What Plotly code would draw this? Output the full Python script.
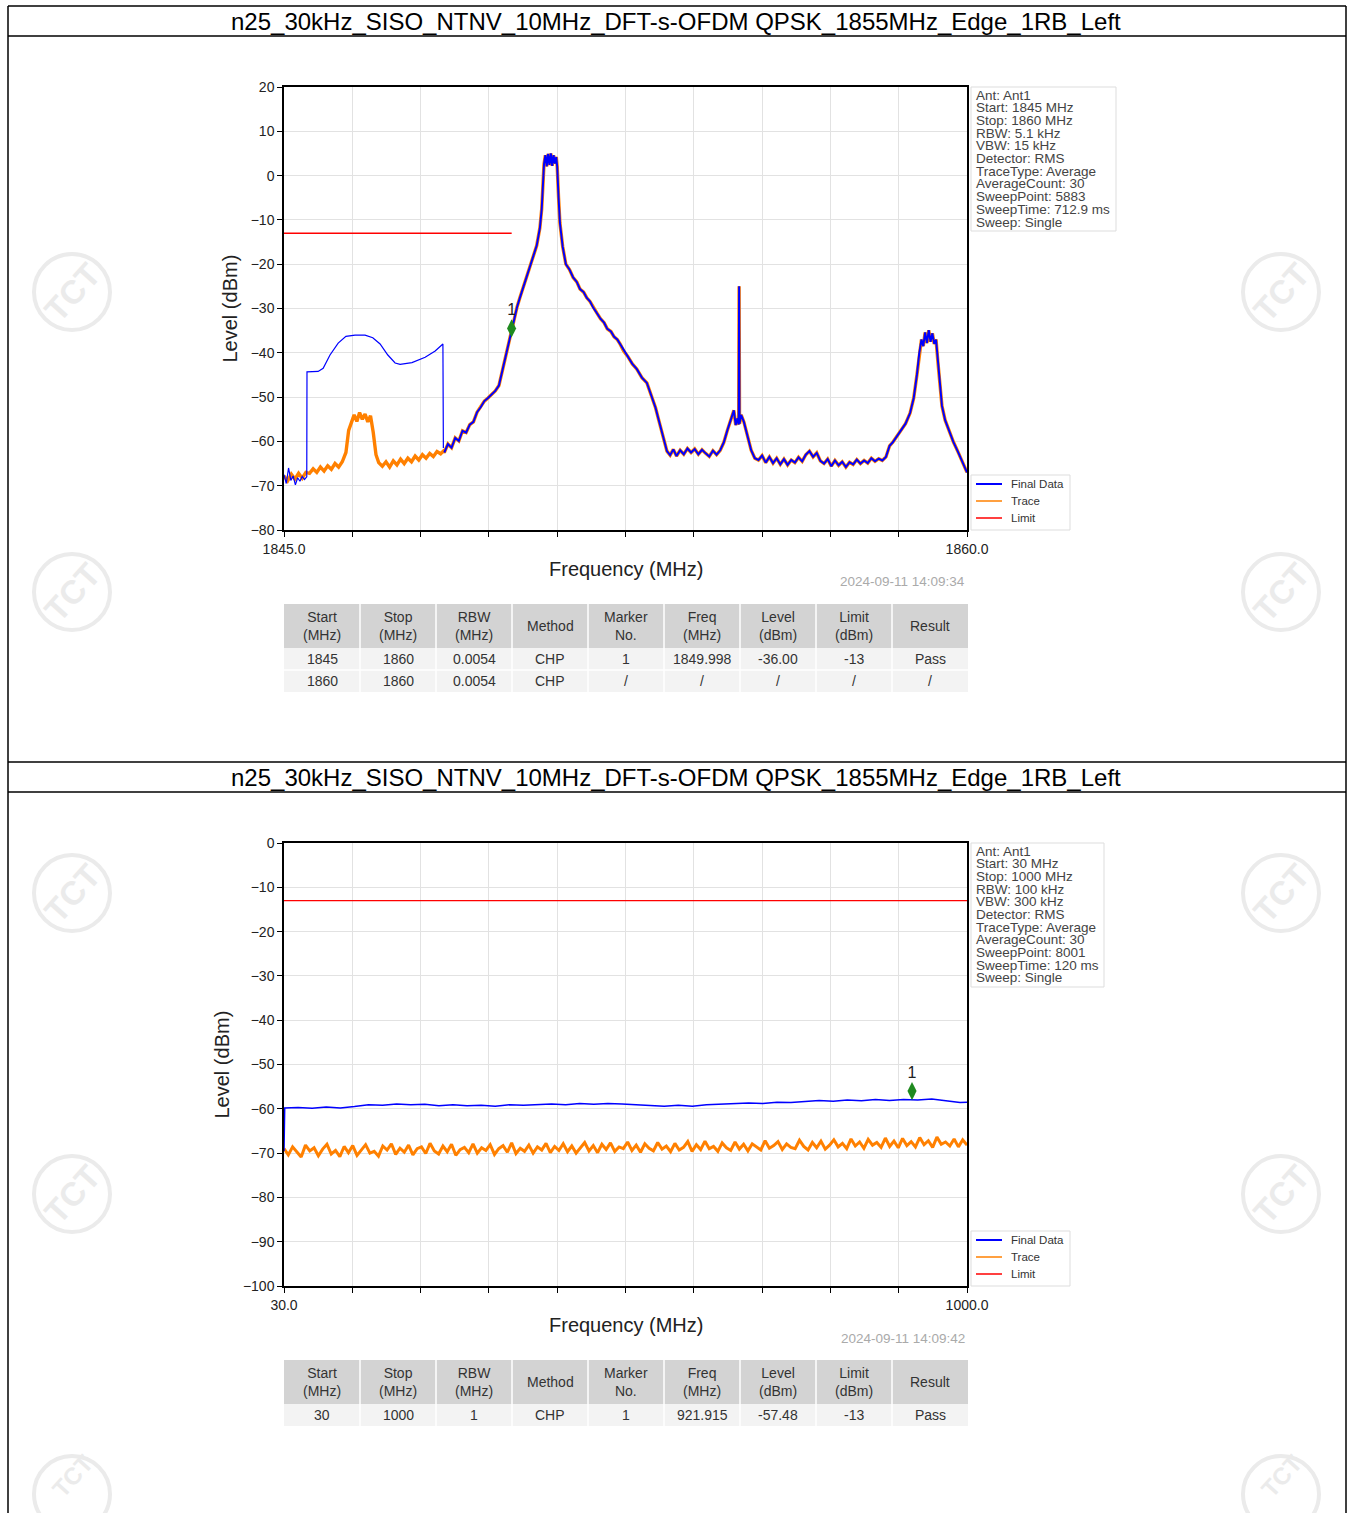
import numpy as np
import plotly.graph_objects as go

W, H = 1348, 1513

# ---------------- data: panel 1 (1845 - 1860 MHz) ----------------
blue1_low_f = [1845.00, 1845.05, 1845.10, 1845.15, 1845.20, 1845.25, 1845.30, 1845.35, 1845.40, 1845.45,
               1845.50, 1845.505, 1845.75, 1845.86, 1846.01, 1846.19, 1846.36, 1846.56, 1846.78, 1846.95,
               1847.11, 1847.28, 1847.44, 1847.55, 1847.81, 1848.10, 1848.32, 1848.49, 1848.50]
blue1_low_v = [-67.5, -69.5, -66.0, -68.8, -67.8, -69.8, -68.2, -69.0, -67.9, -68.6,
               -68.0, -44.3, -44.2, -43.5, -40.5, -37.8, -36.3, -36.0, -36.0, -36.6,
               -38.0, -40.5, -42.3, -42.6, -42.2, -41.0, -39.6, -38.0, -61.5]

trace1_low_f = [1845.00, 1845.08, 1845.16, 1845.24, 1845.32, 1845.40, 1845.48, 1845.56, 1845.64, 1845.72,
                1845.80, 1845.88, 1845.96, 1846.04, 1846.12, 1846.20, 1846.28, 1846.36, 1846.42, 1846.48,
                1846.54, 1846.60, 1846.66, 1846.72, 1846.78, 1846.84, 1846.90, 1846.96, 1847.02, 1847.08,
                1847.16, 1847.24, 1847.32, 1847.40, 1847.48, 1847.56, 1847.64, 1847.72, 1847.80, 1847.88,
                1847.96, 1848.04, 1848.12, 1848.20, 1848.28, 1848.36, 1848.44, 1848.50]
trace1_low_v = [-67.8, -68.9, -67.4, -68.5, -67.2, -68.3, -67.0, -67.2, -66.2, -67.0,
                -65.8, -66.7, -65.5, -66.3, -65.0, -65.8, -64.6, -62.5, -57.5, -55.8,
                -54.0, -55.5, -53.5, -55.0, -53.8, -55.6, -54.2, -58.0, -63.0, -64.8,
                -65.6, -64.6, -65.8, -64.4, -65.3, -64.0, -65.0, -63.8, -64.6, -63.3,
                -64.2, -63.0, -63.8, -62.7, -63.4, -62.3, -62.8, -62.2]

shared1_f = [1848.52, 1848.60, 1848.68, 1848.76, 1848.84, 1848.92, 1849.00, 1849.08, 1849.16, 1849.24,
             1849.32, 1849.40, 1849.48, 1849.56, 1849.64, 1849.72, 1849.80, 1849.88, 1849.95, 1850.00,
             1850.06, 1850.12, 1850.18, 1850.27, 1850.37, 1850.47, 1850.55, 1850.62, 1850.66, 1850.69,
             1850.71, 1850.74, 1850.77, 1850.80, 1850.83, 1850.86, 1850.89, 1850.92, 1850.95, 1850.98,
             1851.00, 1851.03, 1851.06, 1851.12, 1851.19, 1851.27, 1851.35, 1851.43, 1851.50, 1851.58,
             1851.65, 1851.72, 1851.79, 1851.87, 1851.95, 1852.03, 1852.10, 1852.18, 1852.25, 1852.32,
             1852.38, 1852.46, 1852.55, 1852.65, 1852.75, 1852.86, 1852.97, 1853.04, 1853.10, 1853.16,
             1853.22, 1853.27, 1853.32, 1853.37, 1853.41, 1853.48, 1853.55, 1853.62, 1853.70, 1853.78,
             1853.86, 1853.94, 1854.02, 1854.10, 1854.18, 1854.26, 1854.34, 1854.42, 1854.50, 1854.58,
             1854.66, 1854.74, 1854.82, 1854.88, 1854.92, 1854.96, 1854.985, 1854.995, 1855.005, 1855.04,
             1855.10, 1855.18, 1855.26, 1855.34, 1855.42, 1855.50, 1855.58, 1855.66, 1855.74, 1855.82,
             1855.90, 1855.98, 1856.06, 1856.14, 1856.22, 1856.30, 1856.38, 1856.46, 1856.54, 1856.62,
             1856.70, 1856.78, 1856.86, 1856.94, 1857.02, 1857.10, 1857.18, 1857.26, 1857.34, 1857.42,
             1857.50, 1857.58, 1857.66, 1857.74, 1857.82, 1857.90, 1857.98, 1858.06, 1858.14, 1858.22,
             1858.30, 1858.37, 1858.45, 1858.55, 1858.65, 1858.75, 1858.83, 1858.90, 1858.95, 1859.00,
             1859.04, 1859.08, 1859.12, 1859.16, 1859.20, 1859.24, 1859.28, 1859.32, 1859.36, 1859.40,
             1859.45, 1859.52, 1859.60, 1859.70, 1859.80, 1859.90, 1860.00]
shared1_v = [-62.5, -60.6, -61.4, -59.2, -59.9, -57.6, -58.0, -56.2, -55.6, -53.4,
             -52.3, -50.9, -50.2, -49.3, -48.6, -47.4, -43.8, -40.3, -37.2, -34.8,
             -32.0, -29.6, -27.6, -24.8, -21.4, -18.4, -15.8, -11.8, -7.5, -1.5,
             2.6, 4.6, 2.1, 4.9, 2.4, 5.0, 2.2, 4.6, 2.7, 4.2,
             2.0, -5.0, -10.7, -16.0, -20.0, -21.2, -23.0, -24.0, -25.6, -26.3,
             -27.6, -28.4, -29.8, -31.0, -32.3, -33.2, -34.6, -35.2, -36.4, -37.0,
             -38.0, -39.6, -40.8, -42.5, -43.7, -45.6, -46.8, -48.9, -50.6, -52.4,
             -54.8, -56.9, -58.8, -60.9, -62.2, -63.1, -61.8, -63.3, -62.0, -62.9,
             -61.6, -62.5, -61.7, -62.9, -61.9, -62.7, -63.4, -62.1, -63.0, -62.0,
             -60.2, -57.4, -54.6, -53.0, -56.3, -54.8, -56.2, -25.0, -56.0, -54.0,
             -55.6, -58.6, -62.0, -63.8, -64.2, -63.2, -64.8, -63.5, -64.9, -63.8,
             -65.2, -64.0, -65.3, -64.2, -64.8, -63.6, -64.5, -63.0, -62.2, -63.5,
             -62.6, -64.4, -65.0, -64.0, -65.6, -64.3, -65.4, -64.6, -65.8, -64.7,
             -65.2, -64.1, -65.0, -64.3, -64.9, -63.8, -64.5, -63.9, -64.3, -63.5,
             -61.0, -60.2, -59.0, -57.6, -56.0, -53.6, -50.2, -45.0, -40.2, -37.0,
             -38.5, -35.4, -37.8, -34.9, -37.5, -35.6, -38.0, -37.0, -42.0, -47.5,
             -52.0, -55.2, -57.6, -60.1, -62.3, -64.6, -67.0]

limit1_f = [1845.0, 1850.0]
limit1_v = [-13, -13]
marker1_f = [1849.998]
marker1_v = [-34.5]

x1_ticks = [1845.0, 1846.5, 1848.0, 1849.5, 1851.0, 1852.5, 1854.0, 1855.5, 1857.0, 1858.5, 1860.0]
x1_labels = ["1845.0", "", "", "", "", "", "", "", "", "", "1860.0"]

info1 = ["Ant: Ant1", "Start: 1845 MHz", "Stop: 1860 MHz", "RBW: 5.1 kHz", "VBW: 15 kHz",
         "Detector: RMS", "TraceType: Average", "AverageCount: 30", "SweepPoint: 5883",
         "SweepTime: 712.9 ms", "Sweep: Single"]

# ---------------- data: panel 2 (30 - 1000 MHz) ----------------
blue2_f = [30, 31, 50, 70, 90, 110, 130, 150, 170, 190, 210, 230, 250, 270, 290, 310, 330, 350, 370,
           390, 410, 430, 450, 470, 490, 510, 530, 550, 570, 590, 610, 630, 650, 670, 690, 710, 730,
           750, 770, 790, 810, 830, 850, 870, 890, 910, 930, 950, 970, 990, 1000]
blue2_v = [-69.5, -59.8, -59.7, -59.9, -59.6, -59.8, -59.5, -59.1, -59.2, -58.9, -59.1, -59.0,
           -59.3, -59.1, -59.3, -59.2, -59.4, -59.1, -59.2, -59.0, -58.9, -59.1, -58.8, -59.0,
           -58.8, -58.9, -59.1, -59.3, -59.4, -59.2, -59.4, -59.1, -59.0, -58.9, -58.7, -58.8,
           -58.5, -58.6, -58.3, -58.1, -58.3, -58.0, -58.2, -57.9, -58.1, -57.9, -58.0, -57.8,
           -58.2, -58.6, -58.5]

trace2_v = [-69.0, -70.4, -68.6, -69.7, -70.9, -68.2, -69.5, -68.8, -70.6, -69.1, -68.0, -70.2, -69.4, -70.8, -68.5, -69.9,
            -68.3, -70.5, -69.2, -68.1, -70.0, -69.6, -70.7, -68.4, -69.3, -67.9, -70.3, -68.9, -69.8, -68.2, -70.4, -69.0,
            -68.6, -70.1, -67.8, -69.5, -70.2, -68.4, -69.7, -68.0, -70.5, -69.2, -68.7, -69.9, -67.9, -70.0, -68.8, -69.4,
            -68.1, -70.3, -69.0, -68.3, -69.8, -67.7, -70.1, -68.9, -69.6, -68.2, -70.0, -68.6, -69.3, -67.8, -69.9, -68.5,
            -69.4, -67.9, -69.7, -68.4, -70.0, -68.8, -67.6, -69.5, -68.3, -69.9, -68.0, -69.2, -67.7, -69.6, -68.6, -69.0,
            -67.5, -69.4, -68.2, -69.8, -67.9, -68.9, -69.5, -67.6, -69.1, -68.4, -69.7, -67.8, -69.3, -68.7, -67.4, -69.6,
            -68.1, -69.2, -67.3, -69.0, -68.5, -69.6, -67.7, -68.8, -69.4, -67.5, -69.1, -68.0, -69.5, -67.9, -68.6, -69.3,
            -67.2, -68.9, -68.3, -67.4, -69.2, -67.9, -68.7, -69.0, -67.1, -68.5, -69.3, -67.6, -68.8, -67.3, -69.1, -68.2,
            -67.0, -68.6, -67.8, -69.0, -66.8, -68.4, -67.5, -68.9, -66.9, -68.2, -67.6, -68.7, -66.6, -68.5, -67.3, -68.8,
            -66.7, -68.3, -67.4, -68.6, -66.5, -68.1, -67.2, -68.7, -66.4, -68.0, -67.5, -68.4, -66.8, -68.6, -67.0, -68.2]
trace2_f = np.linspace(30, 1000, len(trace2_v))  # uniform sweep grid

limit2_f = [30.0, 1000.0]
limit2_v = [-13, -13]
marker2_f = [921.915]
marker2_v = [-56.0]

x2_ticks = [30, 127, 224, 321, 418, 515, 612, 709, 806, 903, 1000]
x2_labels = ["30.0", "", "", "", "", "", "", "", "", "", "1000.0"]

info2 = ["Ant: Ant1", "Start: 30 MHz", "Stop: 1000 MHz", "RBW: 100 kHz", "VBW: 300 kHz",
         "Detector: RMS", "TraceType: Average", "AverageCount: 30", "SweepPoint: 8001",
         "SweepTime: 120 ms", "Sweep: Single"]

legend_names = ["Final Data", "Trace", "Limit"]

title_text = "n25_30kHz_SISO_NTNV_10MHz_DFT-s-OFDM QPSK_1855MHz_Edge_1RB_Left"
stamps = ["2024-09-11 14:09:34", "2024-09-11 14:09:42"]

tbl_header = ["Start<br>(MHz)", "Stop<br>(MHz)", "RBW<br>(MHz)", "Method", "Marker<br>No.",
              "Freq<br>(MHz)", "Level<br>(dBm)", "Limit<br>(dBm)", "Result"]
tbl1_rows = [["1845", "1860", "0.0054", "CHP", "1", "1849.998", "-36.00", "-13", "Pass"],
             ["1860", "1860", "0.0054", "CHP", "/", "/", "/", "/", "/"]]
tbl2_rows = [["30", "1000", "1", "CHP", "1", "921.915", "-57.48", "-13", "Pass"]]

# ---------------- helpers (window pixel -> paper) ----------------
def X(p):
    return p / W

def Y(p):
    return 1 - p / H

def P(xp, yp, xa="center", ya="middle"):
    return dict(x=X(xp), y=Y(yp), xref="paper", yref="paper", showarrow=False,
                xanchor=xa, yanchor=ya)

def seg(x0, y0, x1, y1, color, width):
    return dict(type="line", xref="paper", yref="paper", x0=X(x0), x1=X(x1),
                y0=Y(y0), y1=Y(y1), line=dict(color=color, width=width))

FONT = "Liberation Sans, Arial, sans-serif"
BLUE, ORANGE, RED, GREEN = "#0000ff", "#ff8000", "#ff0000", "#1f8a1f"

fig = go.Figure()

def add_panel(xa, ya, tr_f, tr_v, tw, bl_f, bl_v, bw, lim_f, lim_v, mk_f, mk_v):
    fig.add_trace(go.Scatter(x=tr_f, y=tr_v, mode="lines", name="Trace",
                             line=dict(color=ORANGE, width=tw), xaxis=xa, yaxis=ya))
    fig.add_trace(go.Scatter(x=bl_f, y=bl_v, mode="lines", name="Final Data",
                             line=dict(color=BLUE, width=bw), xaxis=xa, yaxis=ya))
    fig.add_trace(go.Scatter(x=lim_f, y=lim_v, mode="lines", name="Limit",
                             line=dict(color=RED, width=1.4), xaxis=xa, yaxis=ya))
    fig.add_trace(go.Scatter(x=mk_f, y=mk_v, mode="markers+text", text=["1"],
                             textposition="top center", textfont=dict(size=16, color="#222", family=FONT),
                             marker=dict(symbol="diamond-tall", size=13, color=GREEN),
                             xaxis=xa, yaxis=ya, hoverinfo="skip"))

add_panel("x", "y", trace1_low_f + shared1_f, trace1_low_v + shared1_v, 3.4,
          shared1_f, shared1_v, 2.0, limit1_f, limit1_v, marker1_f, marker1_v)
# the smooth low-frequency stretch of Final Data is drawn thin, as in the source
fig.add_trace(go.Scatter(x=blue1_low_f, y=blue1_low_v, mode="lines", line=dict(color=BLUE, width=1.2),
                         xaxis="x", yaxis="y", hoverinfo="skip"))
add_panel("x2", "y2", trace2_f, trace2_v, 3.0, blue2_f, blue2_v, 1.5,
          limit2_f, limit2_v, marker2_f, marker2_v)

axis_common = dict(showline=True, linecolor="black", linewidth=1.5, mirror=True,
                   ticks="outside", ticklen=5, tickcolor="black", showgrid=True,
                   gridcolor="#e2e2e2", gridwidth=1, zeroline=False,
                   tickfont=dict(family=FONT, size=14, color="#222"))

fig.update_layout(
    width=W, height=H, margin=dict(l=0, r=0, t=0, b=0, pad=0, autoexpand=False),
    paper_bgcolor="white", plot_bgcolor="white", showlegend=False,
    font=dict(family=FONT),
    xaxis=dict(domain=[X(284), X(967)], anchor="y", range=[1845, 1860],
               tickvals=x1_ticks, ticktext=x1_labels, **axis_common),
    yaxis=dict(domain=[Y(530), Y(87)], anchor="x", range=[-80, 20], dtick=10, **axis_common),
    xaxis2=dict(domain=[X(284), X(967)], anchor="y2", range=[30, 1000],
                tickvals=x2_ticks, ticktext=x2_labels, **axis_common),
    yaxis2=dict(domain=[Y(1286), Y(843)], anchor="x2", range=[-100, 0], dtick=10, **axis_common),
)

shapes = []
ann = []

# page frame / title bars
for yy in [6, 36, 762, 792]:
    shapes.append(seg(8, yy, 1346, yy, "black", 1.5))
for xx in [8, 1346]:
    shapes.append(seg(xx, 6, xx, 1513, "black", 1.5))
for yy in [21, 777]:
    ann.append(dict(text=title_text, font=dict(family=FONT, size=24, color="black"), **P(676, yy)))

# watermarks
for cx in [72, 1281]:
    for cy in [292, 592, 893, 1194, 1494]:
        shapes.append(dict(type="circle", xref="paper", yref="paper", layer="below",
                           x0=X(cx - 38), x1=X(cx + 38), y0=Y(cy + 38), y1=Y(cy - 38),
                           line=dict(color="#ebebeb", width=4)))
        low = cy > 1400
        ann.append(dict(text="<b>TCT</b>", textangle=-48,
                        font=dict(family=FONT, size=24 if low else 33, color="#ebebeb"),
                        **P(cx, 1476 if low else cy)))

# axis titles, timestamps, info boxes, legends
for top, bot, stamp, info, box_r, ylab_x in [(87, 530, stamps[0], info1, 1116, 229),
                                             (843, 1286, stamps[1], info2, 1104, 221)]:
    ann.append(dict(text="Frequency (MHz)", font=dict(family=FONT, size=20, color="#222"),
                    **P(626, bot + 39)))
    ann.append(dict(text="Level (dBm)", textangle=-90, font=dict(family=FONT, size=20, color="#222"),
                    **P(ylab_x, (top + bot) / 2)))
    ann.append(dict(text=stamp, font=dict(family=FONT, size=13.5, color="#aaaaaa"),
                    **P(967, bot + 52, xa="right")))
    shapes.append(dict(type="rect", xref="paper", yref="paper", x0=X(971), x1=X(box_r),
                       y0=Y(top + 144), y1=Y(top), line=dict(color="#dddddd", width=1),
                       fillcolor="white"))
    for i, line in enumerate(info):
        ann.append(dict(text=line, font=dict(family=FONT, size=13.5, color="#444"),
                        **P(974, top + 8 + i * 12.7, xa="left")))
    # legend box
    lt = bot - 55
    shapes.append(dict(type="rect", xref="paper", yref="paper", x0=X(971), x1=X(1070),
                       y0=Y(bot), y1=Y(lt), line=dict(color="#dddddd", width=1),
                       fillcolor="white"))
    for i, (name, col, lw) in enumerate(zip(legend_names, [BLUE, ORANGE, RED], [2, 1.5, 1.5])):
        yy = lt + 9 + i * 17
        shapes.append(seg(976, yy, 1002, yy, col, lw))
        ann.append(dict(text=name, font=dict(family=FONT, size=11.5, color="#333"),
                        **P(1009, yy, xa="left")))

# result tables (header + rows), built from the table lists
col_w = 76
for rows, top in [(tbl1_rows, 604), (tbl2_rows, 1360)]:
    left, right = 284, 284 + 9 * col_w
    bottom = top + 44 + 22 * len(rows)
    shapes.append(dict(type="rect", xref="paper", yref="paper", x0=X(left), x1=X(right),
                       y0=Y(top + 44), y1=Y(top), line=dict(width=0), fillcolor="#d3d3d3"))
    shapes.append(dict(type="rect", xref="paper", yref="paper", x0=X(left), x1=X(right),
                       y0=Y(bottom), y1=Y(top + 44), line=dict(width=0), fillcolor="#f3f3f3"))
    for r in range(1, len(rows)):
        yy = top + 44 + 22 * r
        shapes.append(seg(left, yy, right, yy, "white", 1.5))
    for c in range(1, 9):
        xx = left + c * col_w
        shapes.append(seg(xx, bottom, xx, top, "white", 1.5))
    for c, head in enumerate(tbl_header):
        cx = left + c * col_w + col_w / 2
        ann.append(dict(text=head, font=dict(family=FONT, size=14, color="#333"), **P(cx, top + 22)))
        for r, row in enumerate(rows):
            ann.append(dict(text=row[c], font=dict(family=FONT, size=14, color="#333"),
                            **P(cx, top + 55 + 22 * r)))

fig.update_layout(shapes=shapes, annotations=ann)

# drop the browser's default 8 px body margin so the figure sits at the window origin
fig.write_html("out.html", config={"displayModeBar": False},
               post_script="document.body.style.margin='0px';")
